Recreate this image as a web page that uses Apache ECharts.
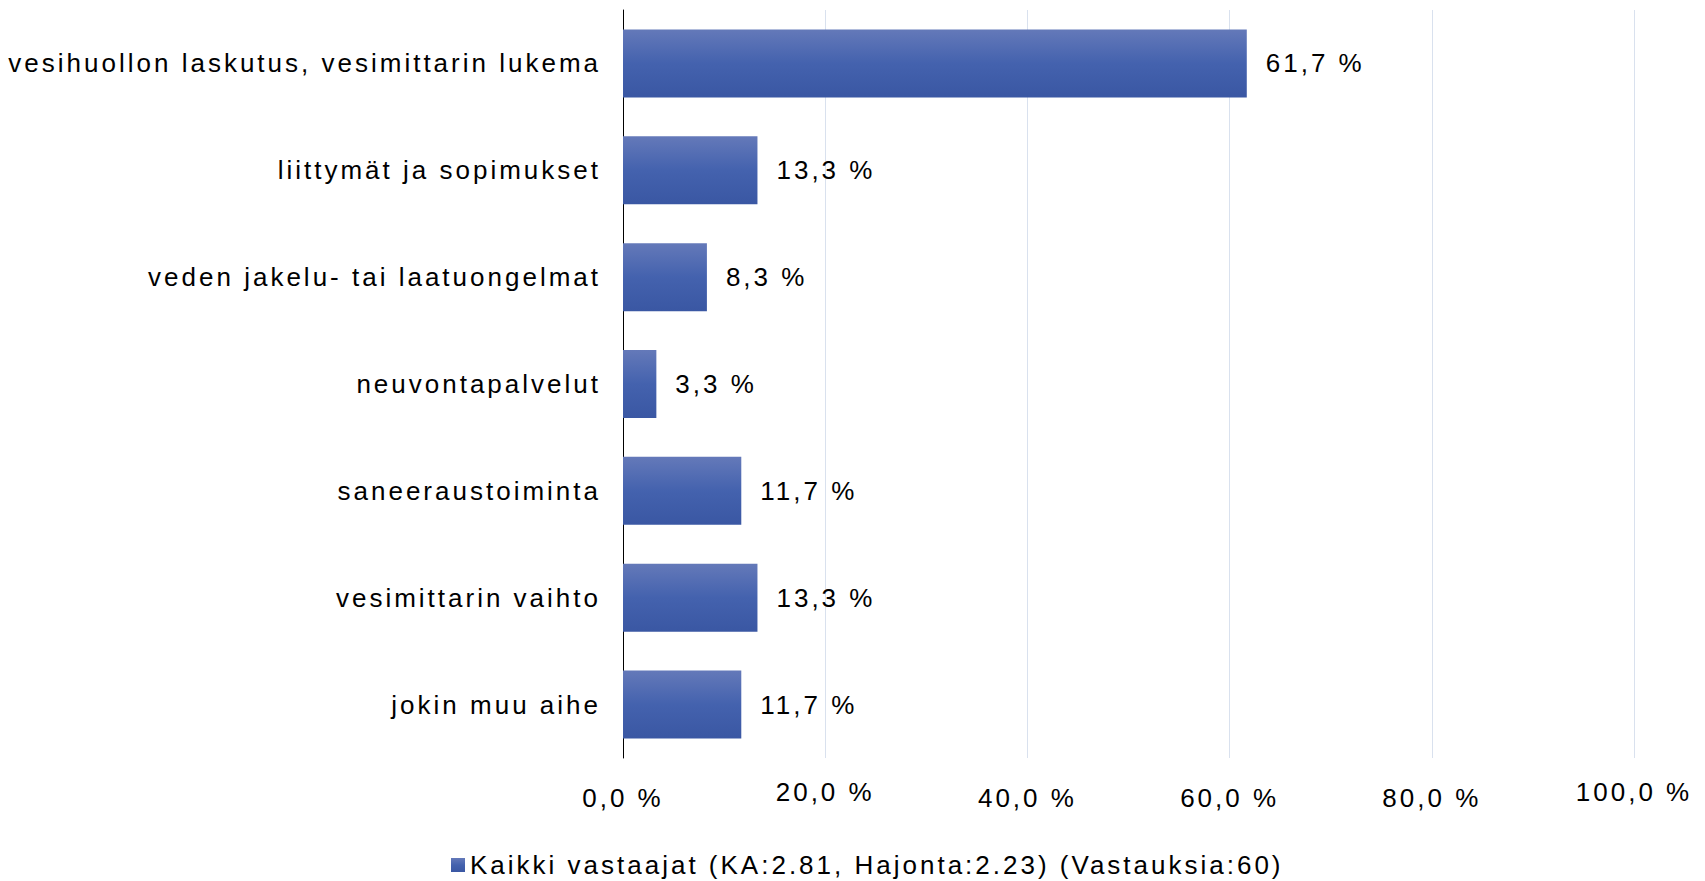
<!DOCTYPE html>
<html>
<head>
<meta charset="utf-8">
<script src="https://cdn.jsdelivr.net/npm/echarts@6/dist/echarts.min.js"></script>
<style>
	html, body { margin: 0; padding: 0; background: #fff; }
	#main { width: 1705px; height: 881px; }
	/* the original has wide letter spacing on all texts */
	#main svg text { letter-spacing: 3px; }
</style>
</head>
<body>
<div id="main"></div>
<script>
	var categories = [
		'vesihuollon laskutus, vesimittarin lukema',
		'liittymät ja sopimukset',
		'veden jakelu- tai laatuongelmat',
		'neuvontapalvelut',
		'saneeraustoiminta',
		'vesimittarin vaihto',
		'jokin muu aihe'
	];

	var values = [61.7, 13.3, 8.3, 3.3, 11.7, 13.3, 11.7];

	var seriesName = 'Kaikki vastaajat (KA:2.81, Hajonta:2.23) (Vastauksia:60)';

	// tick labels drawn a bit higher in the original
	var raisedTicks = [20, 100];

	var font = 'Liberation Sans, Arial, sans-serif';

	function pct(v) {
		return v.toFixed(1).replace('.', ',') + ' %';
	}

	var myChart = echarts.init(document.getElementById('main'), null, {renderer: 'svg'});

	var option = {
		animation: false,
		backgroundColor: '#fff',
		textStyle: {fontFamily: font, color: '#000'},
		grid: {left: 623, right: 71, top: 10, bottom: 123},
		legend: {
			bottom: -2,
			left: 446,
			icon: 'rect',
			itemWidth: 14,
			itemHeight: 14,
			textStyle: {fontFamily: font, fontSize: 26, color: '#000'},
			data: [seriesName]
		},
		xAxis: {
			type: 'value',
			min: 0,
			max: 100,
			interval: 20,
			axisLine: {show: false},
			axisTick: {show: false},
			splitLine: {show: true, lineStyle: {color: '#d9e1ee', width: 1}},
			axisLabel: {
				margin: 21,
				fontFamily: font,
				fontSize: 26,
				color: '#000',
				formatter: function (v) {
					if (raisedTicks.indexOf(v) >= 0) return '{up|' + pct(v) + '}';
					return '{lo|' + pct(v) + '}';
				},
				rich: {
					up: {fontFamily: font, fontSize: 26, color: '#000', lineHeight: 26},
					lo: {fontFamily: font, fontSize: 26, color: '#000', lineHeight: 26, padding: [12, 0, 0, 0]}
				}
			}
		},
		yAxis: {
			type: 'category',
			inverse: true,
			data: categories,
			axisLine: {show: true, lineStyle: {color: '#000', width: 1}},
			axisTick: {show: false},
			axisLabel: {margin: 22, fontFamily: font, fontSize: 26, color: '#000'}
		},
		series: [{
			name: seriesName,
			type: 'bar',
			barWidth: 68,
			data: values,
			itemStyle: {
				color: new echarts.graphic.LinearGradient(0, 0, 0, 1, [
					{offset: 0, color: '#6479b9'},
					{offset: 0.5, color: '#4462ae'},
					{offset: 1, color: '#3a57a3'}
				])
			},
			label: {
				show: true,
				position: 'right',
				distance: 19,
				fontFamily: font,
				fontSize: 26,
				color: '#000',
				formatter: function (p) { return pct(p.value); }
			}
		}]
	};

	myChart.setOption(option);
</script>
</body>
</html>
